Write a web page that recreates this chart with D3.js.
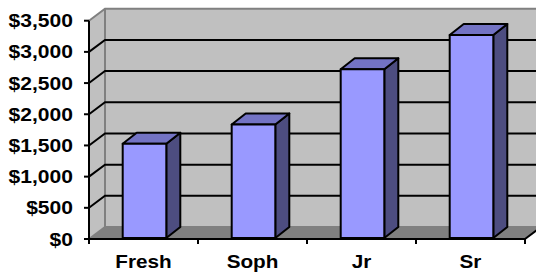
<!DOCTYPE html>
<html><head><meta charset="utf-8">
<script src="https://cdn.jsdelivr.net/npm/d3@7"></script>
<style>html,body{margin:0;padding:0;background:#fff}svg{display:block}</style>
</head><body>
<svg id="c" width="536" height="273"></svg>
<script>
const categories = ["Fresh", "Soph", "Jr", "Sr"];
const values = [1510, 1820, 2705, 3255];
const yTicks = [0, 500, 1000, 1500, 2000, 2500, 3000, 3500];
const yTickLabels = ["$0", "$500", "$1,000", "$1,500", "$2,000", "$2,500", "$3,000", "$3,500"];

const svg = d3.select("#c");
const y = d3.scaleLinear().domain([0, 3500]).range([239, 20.7]);
const x = d3.scaleBand().domain(categories).range([89, 525]).padding(0);
const DX = 16, DY = -12;          // wall depth
const FX = 1, FY = -1;            // bar front offset
const BX = 15, BY = -12;          // bar back offset
const bw = x.bandwidth() * 0.4;
const x0 = x.range()[0], x1 = x.range()[1];
const line = d3.line();

// back wall
svg.append("path").attr("d", line([[x0+DX, y(3500)+DY],[x1+DX, y(3500)+DY],[x1+DX, y(0)+DY],[x0+DX, y(0)+DY]])+"Z")
  .attr("fill", "#c0c0c0");
// left wall
svg.append("path").attr("d", line([[x0, y(3500)],[x0+DX, y(3500)+DY],[x0+DX, y(0)+DY],[x0, y(0)]])+"Z")
  .attr("fill", "#c0c0c0");
// floor
svg.append("path").attr("d", line([[x0, y(0)],[x0+DX, y(0)+DY],[x1+DX, y(0)+DY],[x1, y(0)]])+"Z")
  .attr("fill", "#808080");
// wall gray edges
svg.append("path").attr("d", line([[x0, y(3500)],[x0+DX, y(3500)+DY],[x1+DX+5, y(3500)+DY]]))
  .attr("fill", "none").attr("stroke", "#808080").attr("stroke-width", 2);
svg.append("path").attr("d", line([[x0+DX, y(3500)+DY],[x0+DX, y(0)+DY],[x1+DX+5, y(0)+DY]]))
  .attr("fill", "none").attr("stroke", "#808080").attr("stroke-width", 2);
svg.append("path").attr("d", line([[x0, y(0)],[x0+DX, y(0)+DY]]))
  .attr("fill", "none").attr("stroke", "#808080").attr("stroke-width", 2);

// gridlines
yTicks.filter(t => t > 0 && t < 3500).forEach(t => {
  svg.append("path").attr("d", line([[x0, y(t)],[x0+DX, y(t)+DY],[x1+DX+5, y(t)+DY]]))
    .attr("fill", "none").attr("stroke", "#000").attr("stroke-width", 2);
});
// floor right edge
svg.append("path").attr("d", line([[x1, y(0)],[x1+DX, y(0)+DY]]))
  .attr("fill", "none").attr("stroke", "#000").attr("stroke-width", 2);

// bars
categories.forEach((c, i) => {
  const v = values[i];
  const l = x(c) + (x.bandwidth() - bw) / 2 + FX, r = l + bw;
  const t = y(v) + FY, b = y(0) + FY;
  const g = svg.append("g").attr("stroke", "#000").attr("stroke-width", 2).attr("stroke-linejoin", "round");
  const dx = BX - FX, dy = BY - FY;
  g.append("path").attr("d", line([[r, t],[r+dx, t+dy],[r+dx, b+dy],[r, b]])+"Z").attr("fill", "#4d4d80");
  g.append("path").attr("d", line([[l, t],[l+dx, t+dy],[r+dx, t+dy],[r, t]])+"Z").attr("fill", "#7373c4");
  g.append("path").attr("d", line([[l, t],[r, t],[r, b],[l, b]])+"Z").attr("fill", "#9999ff");
});

// axes
svg.append("line").attr("x1", x0).attr("x2", x0).attr("y1", y(3500)).attr("y2", y(0)+1)
  .attr("stroke", "#000").attr("stroke-width", 2);
svg.append("line").attr("x1", x0-5).attr("x2", x1+1).attr("y1", y(0)).attr("y2", y(0))
  .attr("stroke", "#000").attr("stroke-width", 2);
yTicks.forEach(t => {
  svg.append("line").attr("x1", x0-5).attr("x2", x0).attr("y1", y(t)).attr("y2", y(t))
    .attr("stroke", "#000").attr("stroke-width", 2);
});
const bounds = categories.map(c => x(c)).concat([x1]);
bounds.forEach(bx => {
  svg.append("line").attr("x1", bx).attr("x2", bx).attr("y1", y(0)).attr("y2", y(0)+5)
    .attr("stroke", "#000").attr("stroke-width", 2);
});

// labels
const font = "'Liberation Sans', Arial, sans-serif";
yTicks.forEach((t, i) => {
  svg.append("text").attr("transform", `translate(73,${y(t)+6.5}) scale(1.17,1)`)
    .attr("text-anchor", "end").attr("font-family", font).attr("font-weight", "bold")
    .attr("font-size", 18).attr("fill", "#000").text(yTickLabels[i]);
});
categories.forEach(c => {
  svg.append("text").attr("transform", `translate(${x(c)+x.bandwidth()/2},268) scale(1.15,1)`)
    .attr("text-anchor", "middle").attr("font-family", font).attr("font-weight", "bold")
    .attr("font-size", 18).attr("fill", "#000").text(c);
});
</script>
</body></html>
